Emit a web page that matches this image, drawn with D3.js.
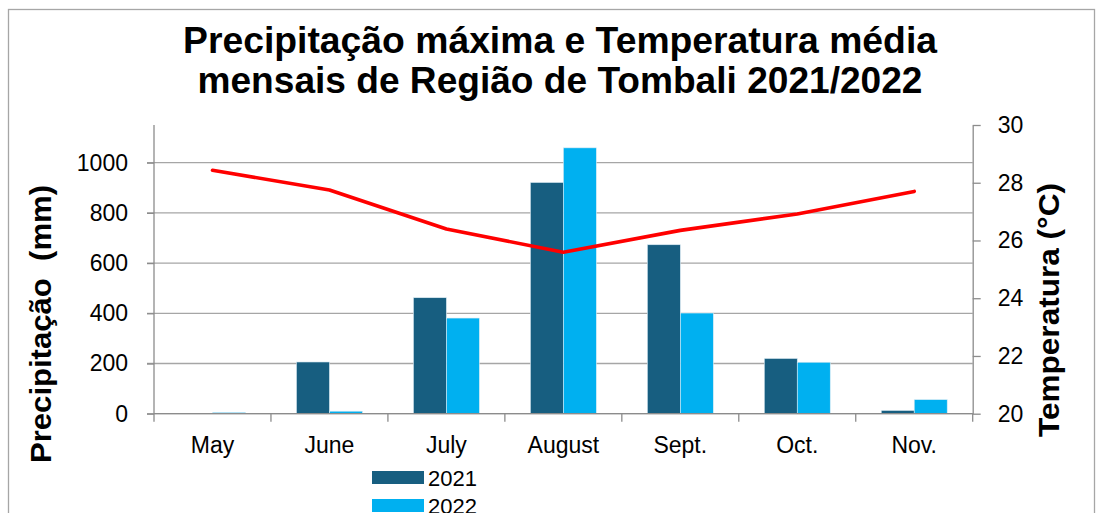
<!DOCTYPE html>
<html>
<head>
	<meta charset="utf-8">
	<style>
		body {
			margin: 0;
			font-family: 'Liberation Sans', Arial, sans-serif;
			background: white;
		}
		.grid line {
			stroke: #a6a6a6;
			stroke-width: 1.3px;
		}
		.axis path, .axis line {
			stroke: #8c8c8c;
			stroke-width: 1.3px;
		}
		.axis text {
			font-size: 23px;
			fill: black;
		}
		.title {
			font-size: 36px;
			font-weight: bold;
			text-anchor: middle;
		}
		.ytitle {
			font-size: 30px;
			font-weight: bold;
			text-anchor: middle;
			white-space: pre;
		}
	</style>
	<script src="https://d3js.org/d3.v7.min.js"></script>
</head>
<body>
	<script>
		var months = ['May', 'June', 'July', 'August', 'Sept.', 'Oct.', 'Nov.'];
		var years = ['2021', '2022'];
		var rain_2021 = [0, 206, 462, 921, 673, 220, 13];
		var rain_2022 = [5, 10, 381, 1059, 401, 205, 56];
		var temperature = [28.43, 27.75, 26.4, 25.59, 26.35, 26.92, 27.7];
		var rain_ticks = [0, 200, 400, 600, 800, 1000];
		var temp_ticks = [20, 22, 24, 26, 28, 30];

		(function () {
			'use strict';
			var width = 1097, height = 513,
				plot_left = 154, plot_right = 972.7,
				plot_top = 125, base = 413.7,
				colours = {'2021': '#175e80', '2022': '#00b0f0'};

			var svg = d3.select('body').append('svg')
				.attr('width', width)
				.attr('height', height);

			// outer frame
			svg.append('rect')
				.attr('x', 8.5).attr('y', 9.5)
				.attr('width', 1086).attr('height', 520)
				.attr('fill', 'none')
				.attr('stroke', '#a6a6a6')
				.attr('stroke-width', 1.3);

			var title = svg.append('text').attr('class', 'title');
			title.append('tspan').attr('x', 560).attr('y', 53)
				.attr('textLength', 754).attr('lengthAdjust', 'spacingAndGlyphs')
				.text('Precipitação máxima e Temperatura média');
			title.append('tspan').attr('x', 560).attr('y', 93)
				.attr('textLength', 725).attr('lengthAdjust', 'spacingAndGlyphs')
				.text('mensais de Região de Tombali 2021/2022');

			var x = d3.scaleBand().domain(months).range([plot_left, plot_right]);
			var bw = x.bandwidth();
			var x_year = d3.scaleBand().domain(years).range([bw * 0.218, bw * 0.782]);

			var y_rain = d3.scaleLinear().domain([0, 1150]).range([base, plot_top]);
			var y_temp = d3.scaleLinear().domain([20, 30]).range([base, plot_top]);

			// gridlines
			svg.append('g')
				.attr('class', 'grid')
				.selectAll('line')
				.data(rain_ticks)
				.enter()
				.append('line')
				.attr('x1', plot_left - 7).attr('x2', plot_right)
				.attr('y1', d => y_rain(d)).attr('y2', d => y_rain(d));

			// bars
			var rows = months.map((m, i) => ({month: m, '2021': rain_2021[i], '2022': rain_2022[i]}));
			svg.append('g')
				.selectAll('g')
				.data(rows)
				.enter()
				.append('g')
				.attr('transform', d => 'translate(' + x(d.month) + ',0)')
				.selectAll('rect')
				.data(d => years.map(yr => ({year: yr, value: d[yr]})))
				.enter()
				.append('rect')
				.attr('x', d => x_year(d.year))
				.attr('width', x_year.bandwidth())
				.attr('y', d => y_rain(d.value))
				.attr('height', d => base - y_rain(d.value))
				.attr('fill', d => colours[d.year])
				.attr('stroke', '#dcecf4')
				.attr('stroke-width', 0.6);

			// axes
			var axis_left = svg.append('g')
				.attr('class', 'axis')
				.attr('transform', 'translate(' + plot_left + ',0)')
				.call(d3.axisLeft(y_rain).tickValues(rain_ticks).tickFormat(d3.format('d'))
					.tickSize(7).tickSizeOuter(0).tickPadding(19));
			axis_left.select('.domain').attr('d', 'M0,' + plot_top + 'V' + base);

			svg.append('g')
				.attr('class', 'axis')
				.attr('transform', 'translate(' + plot_right + ',0)')
				.call(d3.axisRight(y_temp).tickValues(temp_ticks)
					.tickSize(8).tickSizeOuter(0).tickPadding(17));

			var axis_bottom = svg.append('g')
				.attr('class', 'axis')
				.attr('transform', 'translate(0,' + base + ')')
				.call(d3.axisBottom(x).tickSize(0).tickPadding(23));
			axis_bottom.select('.domain').attr('d', 'M' + plot_left + ',0H' + plot_right);
			axis_bottom.selectAll('.bound')
				.data(d3.range(months.length + 1))
				.enter()
				.append('line')
				.attr('x1', i => plot_left + i * bw).attr('x2', i => plot_left + i * bw)
				.attr('y1', 0).attr('y2', 8)
				.attr('stroke', '#8c8c8c')
				.attr('stroke-width', 1.3);

			// temperature line
			svg.append('path')
				.datum(temperature)
				.attr('fill', 'none')
				.attr('stroke', '#ff0000')
				.attr('stroke-width', 3.6)
				.attr('stroke-linejoin', 'round')
				.attr('stroke-linecap', 'round')
				.attr('d', d3.line()
					.x((d, i) => x(months[i]) + bw / 2)
					.y(d => y_temp(d)));

			// axis titles
			svg.append('text')
				.attr('class', 'ytitle')
				.attr('transform', 'translate(51,324) rotate(-90)')
				.attr('textLength', 278).attr('lengthAdjust', 'spacingAndGlyphs')
				.text('Precipitação  (mm)');
			svg.append('text')
				.attr('class', 'ytitle')
				.attr('transform', 'translate(1059,310) rotate(-90)')
				.attr('textLength', 254).attr('lengthAdjust', 'spacingAndGlyphs')
				.text('Temperatura (°C)');

			// legend
			var legend = svg.append('g')
				.selectAll('g')
				.data(years)
				.enter()
				.append('g')
				.attr('transform', (d, i) => 'translate(372,' + (471 + i * 28) + ')');
			legend.append('rect')
				.attr('width', 52).attr('height', 13)
				.attr('fill', d => colours[d]);
			legend.append('text')
				.attr('x', 56).attr('y', 15)
				.style('font-size', '22px')
				.text(d => d);
		})();
	</script>
</body>
</html>
